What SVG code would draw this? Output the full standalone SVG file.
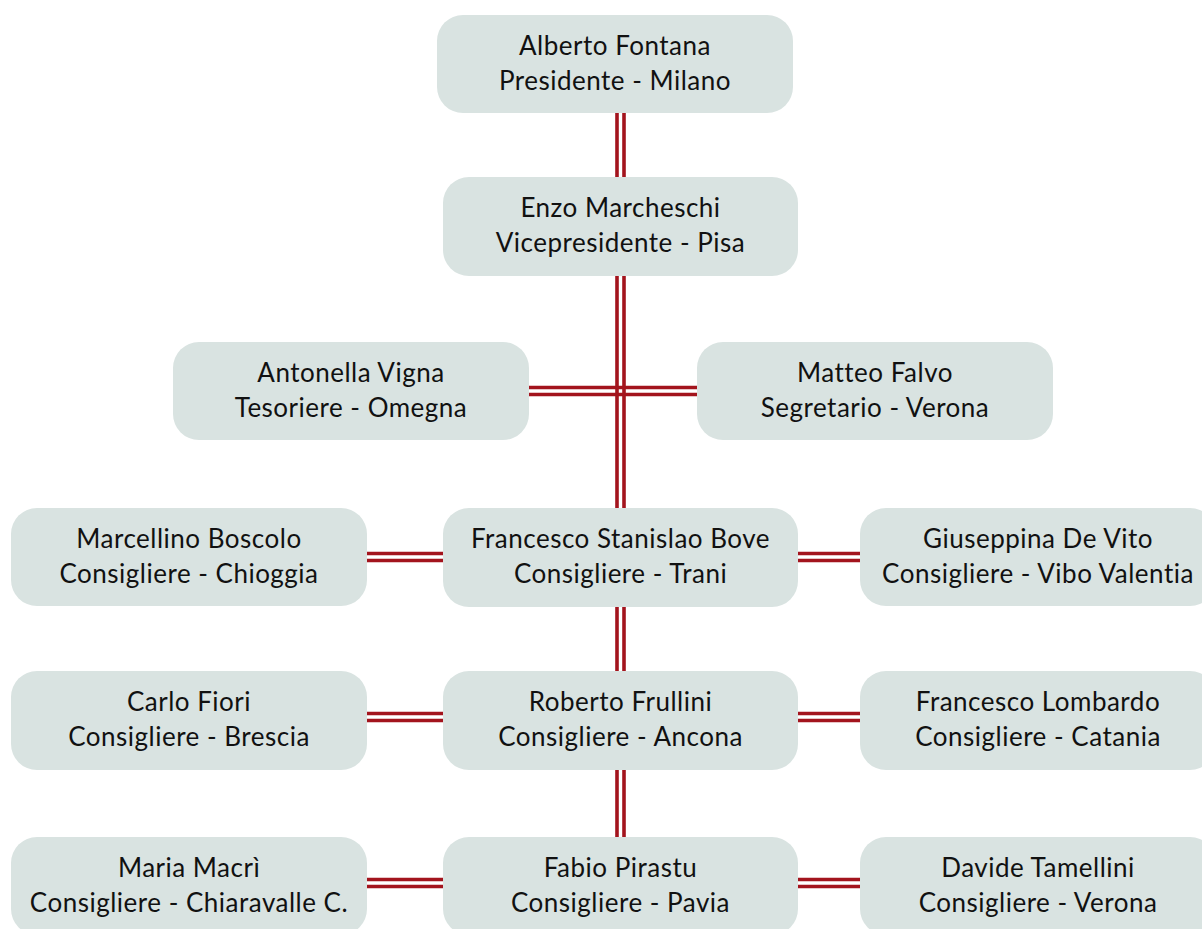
<svg xmlns="http://www.w3.org/2000/svg" width="1202" height="929" viewBox="0 0 1202 929">
<style>
.box{fill:#d9e3e1}
.t{font-family:Lato,"Open Sans","Liberation Sans",sans-serif;font-size:26px;letter-spacing:0.5px;fill:#111;text-anchor:middle}
.c{stroke:#a3141d;stroke-width:3.6;fill:none}
</style>
<rect width="1202" height="929" fill="#fff"/>
<g id="connectors">
<path class="c" d="M617 113V177M624 113V177"/>
<path class="c" d="M617 276V508M624 276V508"/>
<path class="c" d="M529 387.5H697M529 394.5H697"/>
<path class="c" d="M617 607V671M624 607V671"/>
<path class="c" d="M617 770V837M624 770V837"/>
<path class="c" d="M367 553.5H443M367 560.5H443"/>
<path class="c" d="M798 553.5H860M798 560.5H860"/>
<path class="c" d="M367 713.5H443M367 720.5H443"/>
<path class="c" d="M798 713.5H860M798 720.5H860"/>
<path class="c" d="M367 879.5H443M367 886.5H443"/>
<path class="c" d="M798 879.5H860M798 886.5H860"/>
</g>
<g id="n1"><rect class="box" x="437" y="15" width="356" height="98" rx="26"/><text class="t" x="615" y="55">Alberto Fontana</text><text class="t" x="615" y="90">Presidente - Milano</text></g>
<g id="n2"><rect class="box" x="443" y="177" width="355" height="99" rx="26"/><text class="t" x="620.5" y="217">Enzo Marcheschi</text><text class="t" x="620.5" y="252">Vicepresidente - Pisa</text></g>
<g id="n3"><rect class="box" x="173" y="342" width="356" height="98" rx="26"/><text class="t" x="351" y="382">Antonella Vigna</text><text class="t" x="351" y="417">Tesoriere - Omegna</text></g>
<g id="n4"><rect class="box" x="697" y="342" width="356" height="98" rx="26"/><text class="t" x="875" y="382">Matteo Falvo</text><text class="t" x="875" y="417">Segretario - Verona</text></g>
<g id="n5"><rect class="box" x="11" y="508" width="356" height="98" rx="26"/><text class="t" x="189" y="548">Marcellino Boscolo</text><text class="t" x="189" y="583">Consigliere - Chioggia</text></g>
<g id="n6"><rect class="box" x="443" y="508" width="355" height="99" rx="26"/><text class="t" x="620.5" y="548">Francesco Stanislao Bove</text><text class="t" x="620.5" y="583">Consigliere - Trani</text></g>
<g id="n7"><rect class="box" x="860" y="508" width="356" height="98" rx="26"/><text class="t" x="1038" y="548">Giuseppina De Vito</text><text class="t" x="1038" y="583">Consigliere - Vibo Valentia</text></g>
<g id="n8"><rect class="box" x="11" y="671" width="356" height="99" rx="26"/><text class="t" x="189" y="711">Carlo Fiori</text><text class="t" x="189" y="746">Consigliere - Brescia</text></g>
<g id="n9"><rect class="box" x="443" y="671" width="355" height="99" rx="26"/><text class="t" x="620.5" y="711">Roberto Frullini</text><text class="t" x="620.5" y="746">Consigliere - Ancona</text></g>
<g id="n10"><rect class="box" x="860" y="671" width="356" height="99" rx="26"/><text class="t" x="1038" y="711">Francesco Lombardo</text><text class="t" x="1038" y="746">Consigliere - Catania</text></g>
<g id="n11"><rect class="box" x="11" y="837" width="356" height="98" rx="26"/><text class="t" x="189" y="877">Maria Macrì</text><text class="t" x="189" y="912">Consigliere - Chiaravalle C.</text></g>
<g id="n12"><rect class="box" x="443" y="837" width="355" height="98" rx="26"/><text class="t" x="620.5" y="877">Fabio Pirastu</text><text class="t" x="620.5" y="912">Consigliere - Pavia</text></g>
<g id="n13"><rect class="box" x="860" y="837" width="356" height="98" rx="26"/><text class="t" x="1038" y="877">Davide Tamellini</text><text class="t" x="1038" y="912">Consigliere - Verona</text></g>
</svg>
